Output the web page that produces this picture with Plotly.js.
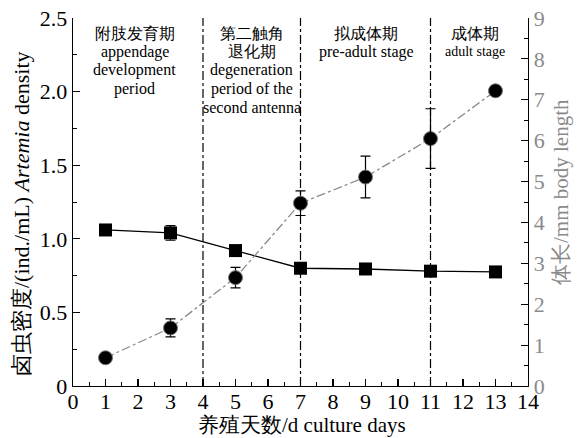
<!DOCTYPE html>
<html>
<head>
<meta charset="utf-8">
<script src="https://cdn.plot.ly/plotly-3.0.1.min.js"></script>
<style>html,body{margin:0;padding:0;background:#fff;}#chart{width:582px;height:438px;}</style>
</head>
<body>
<div id="chart"></div>
<script>
// Data
const days = [1, 3, 5, 7, 9, 11, 13];
const density = [1.06, 1.04, 0.92, 0.80, 0.795, 0.78, 0.775];
const densityErr = [0, 0.05, 0.01, 0.01, 0, 0, 0];
const bodyLength = [0.69, 1.42, 2.65, 4.47, 5.11, 6.05, 7.22];
const bodyLengthErr = [0, 0.22, 0.25, 0.3, 0.51, 0.73, 0];
const phaseBounds = [4, 7, 11];
const phaseCenters = [1.9, 5.5, 9.02, 12.38];
const phaseLines = [
  ['附肢发育期', 'appendage', 'development', 'period'],
  ['第二触角', '退化期', 'degeneration', 'period of the', 'second antenna'],
  ['拟成体期', 'pre-adult stage'],
  ['成体期', 'adult stage']
];
const xTicks = [0,1,2,3,4,5,6,7,8,9,10,11,12,13,14];
const yTicks = [0, 0.5, 1.0, 1.5, 2.0, 2.5];
const yTickText = ['0', '0.5', '1.0', '1.5', '2.0', '2.5'];
const y2Ticks = [0,1,2,3,4,5,6,7,8,9];
const xTitle = '养殖天数/d culture days';
const yTitle = '卤虫密度/(ind./mL) <i>Artemia</i> density';
const y2Title = '体长/mm body length';

const serif = 'Liberation Serif';
const grey = '#8a8a8a';
const plotH = 368, plotW = 455;

const traces = [
  {
    x: days, y: density, type: 'scatter', mode: 'lines+markers',
    line: {color: '#000', width: 1.3},
    marker: {symbol: 'square', size: 13, color: '#000'},
    error_y: {type: 'data', array: densityErr, visible: true, color: '#000', thickness: 1.2, width: 5},
    yaxis: 'y', showlegend: false, cliponaxis: false
  },
  {
    x: days, y: bodyLength, type: 'scatter', mode: 'lines+markers',
    line: {color: grey, width: 1.3, dash: 'dashdot'},
    marker: {symbol: 'circle', size: 14, color: '#000', line: {color: '#777', width: 1}},
    error_y: {type: 'data', array: bodyLengthErr, visible: true, color: '#000', thickness: 1.2, width: 5},
    yaxis: 'y2', showlegend: false, cliponaxis: false
  }
];

const shapes = phaseBounds.map(b => ({
  type: 'line', xref: 'x', yref: 'paper', x0: b, x1: b, y0: 0, y1: 1,
  line: {color: '#000', width: 1.2, dash: 'dashdot'}
}));

const annotations = [];
phaseLines.forEach((lines, i) => {
  lines.forEach((t, j) => {
    const py = 15 + 18.7 * j; // pixels below plot top
    annotations.push({
      x: phaseCenters[i], xref: 'x', y: 1 - py / plotH, yref: 'paper',
      xanchor: 'center', yanchor: 'middle', text: t, showarrow: false,
      font: {family: serif, size: (i === 3 && j === 1) ? 14 : 16, color: '#000'}
    });
  });
});
annotations.push({
  x: 0.503, xref: 'paper', y: -39 / plotH, yref: 'paper', yanchor: 'middle', xanchor: 'center',
  text: xTitle, showarrow: false, font: {family: serif, size: 21, color: '#000'}
});
annotations.push({
  x: -51 / plotW, xref: 'paper', y: 172 / plotH, yref: 'paper', yanchor: 'middle', xanchor: 'center',
  textangle: -90, text: yTitle, showarrow: false, font: {family: serif, size: 22, color: '#000'}
});
annotations.push({
  x: 1 + 33 / plotW, xref: 'paper', y: 194 / plotH, yref: 'paper', yanchor: 'middle', xanchor: 'center',
  textangle: -90, text: y2Title, showarrow: false, font: {family: serif, size: 21, color: grey}
});

const axisCommon = {
  ticks: 'inside', ticklen: 7, tickwidth: 1.2, tickcolor: '#000',
  showline: true, linecolor: '#000', linewidth: 1.3, showgrid: false, zeroline: false
};

const layout = {
  width: 582, height: 438,
  margin: {l: 73, r: 54, t: 18, b: 52},
  paper_bgcolor: '#fff', plot_bgcolor: '#fff',
  font: {family: serif, color: '#000'},
  xaxis: Object.assign({}, axisCommon, {
    range: [0, 14], tickvals: xTicks, ticklabelstandoff: -5,
    minor: {dtick: 0.5, ticks: 'inside', ticklen: 4, tickwidth: 1, tickcolor: '#000'},
    tickfont: {family: serif, size: 22}
  }),
  yaxis: Object.assign({}, axisCommon, {
    range: [0, 2.5], tickvals: yTicks, ticktext: yTickText,
    minor: {dtick: 0.25, ticks: 'inside', ticklen: 4, tickwidth: 1, tickcolor: '#000'},
    tickfont: {family: serif, size: 22}
  }),
  yaxis2: Object.assign({}, axisCommon, {
    range: [0, 9], overlaying: 'y', side: 'right', tickvals: y2Ticks,
    minor: {dtick: 0.5, ticks: 'inside', ticklen: 4, tickwidth: 1, tickcolor: '#000'},
    tickfont: {family: serif, size: 22, color: grey}
  }),
  shapes: shapes,
  annotations: annotations
};

Plotly.newPlot('chart', traces, layout, {staticPlot: true, displayModeBar: false});
</script>
</body>
</html>
